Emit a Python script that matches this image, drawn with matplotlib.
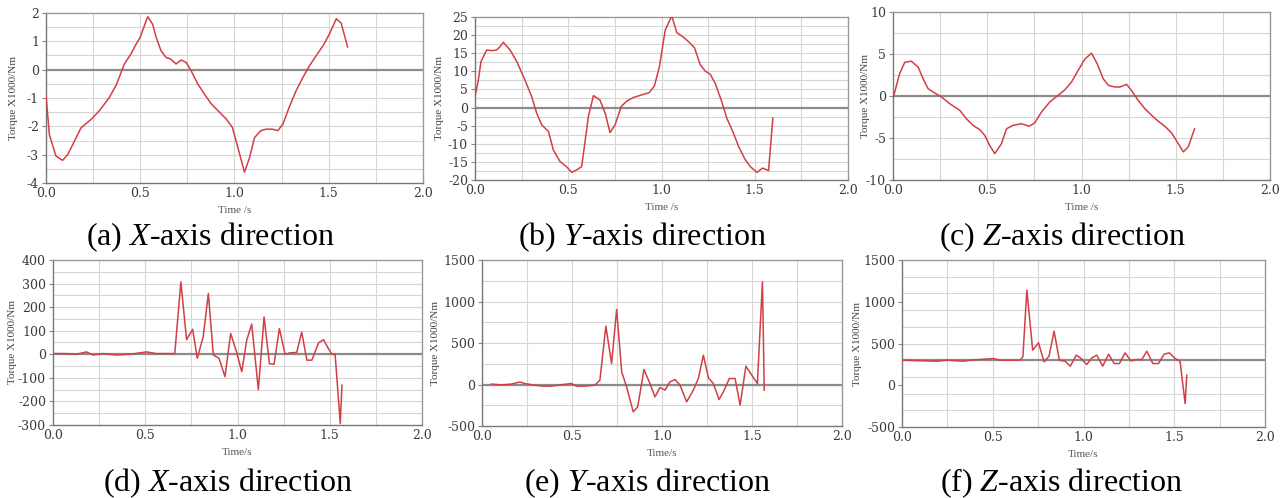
import matplotlib
matplotlib.use("Agg")
import matplotlib.pyplot as plt
import numpy as np

plt.rcParams['font.family'] = ['Liberation Serif', 'DejaVu Serif']
plt.rcParams['mathtext.fontset'] = 'custom'
plt.rcParams['mathtext.rm'] = 'Liberation Serif'
plt.rcParams['mathtext.it'] = 'Liberation Serif:italic'

# ---- data ----
t_a = [0.0, 0.018, 0.053, 0.088, 0.115, 0.16, 0.186, 0.24, 0.283, 0.336, 0.372, 0.416, 0.45, 0.478, 0.5,
       0.53, 0.54, 0.566, 0.584, 0.61, 0.637, 0.66, 0.69, 0.717, 0.743, 0.77, 0.805, 0.84, 0.876, 0.92,
       0.956, 0.988, 1.012, 1.053, 1.08, 1.106, 1.14, 1.168, 1.2, 1.23, 1.257, 1.29, 1.327, 1.363, 1.398,
       1.434, 1.47, 1.504, 1.54, 1.566, 1.6]
v_a = [-0.9, -2.3, -3.05, -3.2, -3.0, -2.4, -2.05, -1.75, -1.45, -0.98, -0.55, 0.2, 0.55, 0.9, 1.15,
       1.7, 1.87, 1.6, 1.15, 0.67, 0.43, 0.38, 0.2, 0.34, 0.26, -0.04, -0.5, -0.86, -1.2, -1.5,
       -1.74, -2.03, -2.6, -3.62, -3.1, -2.4, -2.15, -2.1, -2.1, -2.15, -1.92, -1.33, -0.74, -0.27, 0.14,
       0.5, 0.85, 1.26, 1.8, 1.64, 0.8]

t_b = [0.0, 0.018, 0.032, 0.063, 0.089, 0.116, 0.134, 0.152, 0.188, 0.224, 0.268, 0.304, 0.331, 0.358,
       0.394, 0.42, 0.456, 0.49, 0.519, 0.545, 0.572, 0.608, 0.635, 0.67, 0.698, 0.724, 0.751, 0.784,
       0.814, 0.85, 0.894, 0.934, 0.962, 0.989, 1.02, 1.055, 1.082, 1.118, 1.145, 1.177, 1.207, 1.234,
       1.261, 1.288, 1.32, 1.35, 1.386, 1.413, 1.449, 1.476, 1.512, 1.542, 1.574, 1.597]
v_b = [3.0, 7.6, 12.7, 15.9, 15.7, 15.9, 16.8, 18.0, 15.9, 12.7, 7.6, 3.0, -1.6, -4.8,
       -6.6, -11.7, -14.9, -16.3, -17.9, -17.2, -16.3, -2.5, 3.3, 2.1, -1.6, -6.9, -4.8, 0.3,
       1.8, 2.8, 3.5, 4.1, 6.0, 11.3, 21.4, 25.3, 20.7, 19.4, 18.2, 16.5, 11.9, 10.1,
       9.2, 6.7, 2.1, -2.9, -7.1, -10.7, -14.4, -16.3, -17.9, -16.7, -17.4, -2.9]

t_c = [0.0, 0.035, 0.062, 0.097, 0.133, 0.16, 0.186, 0.221, 0.257, 0.3, 0.354, 0.389, 0.425, 0.46,
       0.487, 0.513, 0.54, 0.575, 0.602, 0.637, 0.681, 0.722, 0.752, 0.788, 0.832, 0.876, 0.912,
       0.947, 0.982, 1.018, 1.053, 1.083, 1.115, 1.142, 1.177, 1.204, 1.239, 1.265, 1.3, 1.336,
       1.372, 1.407, 1.442, 1.478, 1.513, 1.54, 1.566, 1.6]
v_c = [-0.3, 2.65, 4.0, 4.15, 3.45, 2.05, 0.87, 0.36, -0.12, -0.9, -1.7, -2.7, -3.5, -4.0,
       -4.7, -5.9, -6.85, -5.7, -3.9, -3.5, -3.3, -3.6, -3.2, -1.9, -0.7, 0.08, 0.75,
       1.66, 3.05, 4.4, 5.1, 3.85, 2.06, 1.27, 1.07, 1.07, 1.39, 0.67, -0.5, -1.5,
       -2.3, -3.0, -3.6, -4.4, -5.66, -6.65, -6.06, -3.9]

t_d = [0.0, 0.063, 0.127, 0.181, 0.217, 0.27, 0.344, 0.416, 0.507, 0.56, 0.66, 0.693, 0.724, 0.757,
       0.782, 0.814, 0.842, 0.869, 0.9, 0.932, 0.963, 0.995, 1.023, 1.05, 1.077, 1.113, 1.144, 1.173,
       1.198, 1.227, 1.258, 1.285, 1.321, 1.348, 1.376, 1.403, 1.439, 1.466, 1.493, 1.511, 1.529,
       1.557, 1.566]
v_d = [3, 3, 0, 10, -3, 3, -3, 0, 10, 3, 3, 307, 62, 106,
       -17, 74, 258, -3, -17, -95, 88, 10, -74, 60, 128, -150, 158, -40,
       -42, 109, 0, 6, 8, 94, -25, -25, 48, 62, 24, 0, 0,
       -293, -131]

t_e = [0.052, 0.108, 0.163, 0.21, 0.237, 0.29, 0.34, 0.386, 0.423, 0.497, 0.525, 0.571, 0.627, 0.655,
       0.688, 0.72, 0.748, 0.776, 0.803, 0.84, 0.865, 0.9, 0.933, 0.961, 0.989, 1.017, 1.044, 1.072,
       1.1, 1.137, 1.174, 1.202, 1.23, 1.258, 1.285, 1.317, 1.341, 1.374, 1.406, 1.434, 1.466, 1.499,
       1.53, 1.558, 1.568]
v_e = [5, -5, 5, 30, 12, -8, -20, -20, -8, 12, -20, -20, -8, 52,
       703, 253, 904, 153, -28, -329, -269, 181, 12, -149, -36, -68, 32, 60,
       -8, -209, -68, 72, 353, 80, 12, -181, -88, 72, 72, -249, 221, 112,
       12, 1237, -68]

t_f = [0.0, 0.193, 0.248, 0.34, 0.376, 0.505, 0.54, 0.65, 0.666, 0.688, 0.72, 0.752, 0.783, 0.81,
       0.838, 0.867, 0.899, 0.927, 0.96, 0.987, 1.018, 1.046, 1.073, 1.106, 1.138, 1.169, 1.198,
       1.229, 1.261, 1.294, 1.321, 1.349, 1.382, 1.413, 1.444, 1.473, 1.505, 1.532, 1.56, 1.569]
v_f = [300, 288, 300, 288, 300, 320, 300, 300, 340, 1140, 420, 508, 280, 348,
       648, 300, 288, 228, 360, 320, 248, 328, 360, 228, 372, 260, 260,
       388, 292, 308, 308, 408, 260, 260, 372, 388, 320, 288, -220, 120]

captions = ["(a) $X$-axis direction", "(b) $Y$-axis direction", "(c) $Z$-axis direction",
            "(d) $X$-axis direction", "(e) $Y$-axis direction", "(f) $Z$-axis direction"]
x_ticks = [0.0, 0.5, 1.0, 1.5, 2.0]
y_ticks = [[-4, -3, -2, -1, 0, 1, 2], [-20, -15, -10, -5, 0, 5, 10, 15, 20, 25], [-10, -5, 0, 5, 10],
           [-300, -200, -100, 0, 100, 200, 300, 400], [-500, 0, 500, 1000, 1500], [-500, 0, 500, 1000, 1500]]
y_lims = [(-4, 2), (-20, 25), (-10, 10), (-300, 400), (-500, 1500), (-500, 1500)]
grid_step = [0.5, 2.5, 2.5, 50, 250, 200]
baseline = [0, 0, 0, 0, 0, 300]
xlabels = ["Time /s", "Time /s", "Time /s", "Time/s", "Time/s", "Time/s"]

series = [(t_a, v_a), (t_b, v_b), (t_c, v_c), (t_d, v_d), (t_e, v_e), (t_f, v_f)]

# axes pixel boxes (left, right, top, bottom)
boxes = [(46, 423, 13, 183), (475, 848, 17, 180), (893, 1270, 12, 180),
         (53, 422, 260, 425), (482, 842, 260, 426), (902, 1265, 260, 427)]
cap_pos = [(210, 237), (642, 237), (1062, 237), (228, 483), (647, 483), (1062, 483)]
ylab_x = [14, 440, 865, 13, 436, 857]

W, H = 1283, 498
fig = plt.figure(figsize=(W / 100, H / 100), dpi=100)

for i in range(6):
    L, R, T, B = boxes[i]
    ax = fig.add_axes([L / W, 1 - B / H, (R - L) / W, (B - T) / H])
    ymin, ymax = y_lims[i]
    ax.set_xlim(0, 2.0)
    ax.set_ylim(ymin, ymax)
    # grid lines
    for gx in np.arange(0.25, 2.0, 0.25):
        ax.axvline(gx, color='#d6d6d6', lw=0.8, zorder=0)
    g = ymax - grid_step[i]
    while g > ymin + 1e-9:
        ax.axhline(g, color='#d6d6d6', lw=0.8, zorder=0)
        g -= grid_step[i]
    ax.axhline(baseline[i], color='#8c8c8c', lw=1.6, zorder=1)
    t, v = series[i]
    ax.plot(t, v, color='#d23f45', lw=1.1, zorder=3)
    ax.set_xticks(x_ticks)
    ax.set_xticklabels([f"{x:.1f}" for x in x_ticks])
    ax.set_yticks(y_ticks[i])
    ax.set_yticklabels([str(y) for y in y_ticks[i]])
    ax.tick_params(axis='both', labelsize=9, colors='#3a3a3a', length=0, pad=3)
    ax.tick_params(axis='y', length=3, color='#888888', pad=2)
    for lab in ax.get_xticklabels() + ax.get_yticklabels():
        lab.set_family('DejaVu Serif')
    for s in ax.spines.values():
        s.set_color('#999999')
        s.set_linewidth(1.0)
    ax.spines['left'].set_color('#777777')
    ax.spines['bottom'].set_color('#777777')
    # labels
    fig.text((L + R) / 2 / W, 1 - (B + 27) / H, xlabels[i], ha='center', va='center',
             fontsize=8, color='#555555')
    fig.text(ylab_x[i] / W, 1 - (T + B) / 2 / H, "Torque X1000/Nm", rotation=90,
             ha='center', va='center', fontsize=8, color='#444444')
    cx, cy = cap_pos[i]
    fig.text(cx / W, 1 - cy / H, captions[i], ha='center', va='center', fontsize=23, color='black')

fig.savefig("out.png", dpi=100)
